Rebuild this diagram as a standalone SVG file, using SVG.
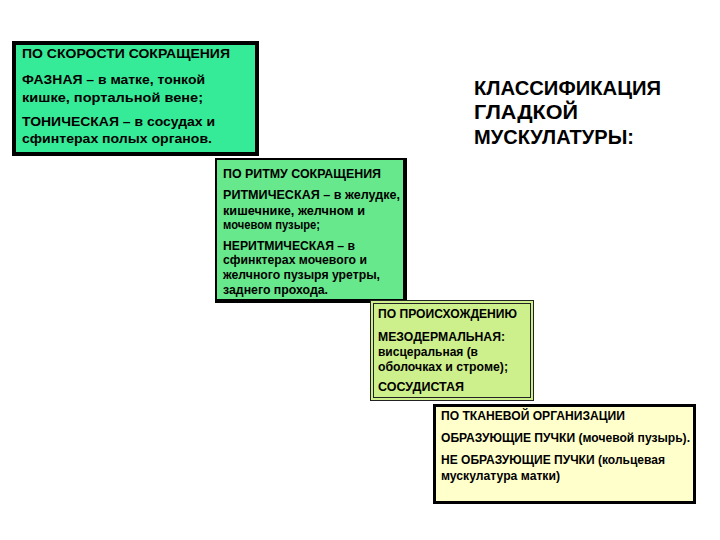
<svg xmlns="http://www.w3.org/2000/svg" width="720" height="540" viewBox="0 0 720 540">
<style>
text{font-family:"Liberation Sans",Arial,sans-serif;font-weight:bold;fill:#000}
.t1{font-size:13px}
.t2{font-size:12px}
.tt{font-size:20px}
</style>
<rect width="720" height="540" fill="#fff"/>
<g id="title">
<text class="tt" x="474" y="95" textLength="187" lengthAdjust="spacingAndGlyphs">КЛАССИФИКАЦИЯ</text>
<text class="tt" x="474" y="119" textLength="104" lengthAdjust="spacingAndGlyphs">ГЛАДКОЙ</text>
<text class="tt" x="474" y="144" textLength="160" lengthAdjust="spacingAndGlyphs">МУСКУЛАТУРЫ:</text>
</g>
<g id="speed">
<rect x="14" y="43" width="243" height="111" fill="#35eb98" stroke="#000" stroke-width="4"/>
<text class="t1" x="22" y="58" textLength="208" lengthAdjust="spacingAndGlyphs">ПО СКОРОСТИ СОКРАЩЕНИЯ</text>
<text class="t1" x="22" y="84" textLength="183" lengthAdjust="spacingAndGlyphs">ФАЗНАЯ – в матке, тонкой</text>
<text class="t1" x="22" y="102" textLength="181" lengthAdjust="spacingAndGlyphs">кишке, портальной вене;</text>
<text class="t1" x="22" y="126" textLength="193" lengthAdjust="spacingAndGlyphs">ТОНИЧЕСКАЯ – в сосудах и</text>
<text class="t1" x="22" y="143" textLength="190" lengthAdjust="spacingAndGlyphs">сфинтерах полых органов.</text>
</g>
<g id="rhythm">
<rect x="215" y="158" width="192" height="145" fill="#000"/>
<rect x="217" y="160" width="186" height="139" fill="#68e88c"/>
<text class="t2" x="223" y="178" textLength="158" lengthAdjust="spacingAndGlyphs">ПО РИТМУ СОКРАЩЕНИЯ</text>
<text class="t2" x="223" y="199" textLength="177" lengthAdjust="spacingAndGlyphs">РИТМИЧЕСКАЯ – в желудке,</text>
<text class="t2" x="223" y="215" textLength="142" lengthAdjust="spacingAndGlyphs">кишечнике, желчном и</text>
<text class="t2" x="223" y="229" textLength="97" lengthAdjust="spacingAndGlyphs">мочевом пузыре;</text>
<text class="t2" x="223" y="250" textLength="132" lengthAdjust="spacingAndGlyphs">НЕРИТМИЧЕСКАЯ – в</text>
<text class="t2" x="223" y="264" textLength="144" lengthAdjust="spacingAndGlyphs">сфинктерах мочевого и</text>
<text class="t2" x="223" y="279" textLength="157" lengthAdjust="spacingAndGlyphs">желчного пузыря уретры,</text>
<text class="t2" x="223" y="294" textLength="105" lengthAdjust="spacingAndGlyphs">заднего прохода.</text>
</g>
<g id="origin">
<rect x="370.5" y="300.5" width="163" height="100" fill="#cdef8c" stroke="#222" stroke-width="1"/>
<rect x="373.5" y="303.5" width="157" height="94" fill="none" stroke="#222" stroke-width="1"/>
<text class="t2" x="378" y="318" textLength="139" lengthAdjust="spacingAndGlyphs">ПО ПРОИСХОЖДЕНИЮ</text>
<text class="t2" x="378" y="341" textLength="127" lengthAdjust="spacingAndGlyphs">МЕЗОДЕРМАЛЬНАЯ:</text>
<text class="t2" x="378" y="356" textLength="100" lengthAdjust="spacingAndGlyphs">висцеральная (в</text>
<text class="t2" x="378" y="371" textLength="130" lengthAdjust="spacingAndGlyphs">оболочках и строме);</text>
<text class="t2" x="378" y="391" textLength="86" lengthAdjust="spacingAndGlyphs">СОСУДИСТАЯ</text>
</g>
<g id="tissue">
<rect x="434.5" y="405.5" width="260" height="97" fill="#ffffcc" stroke="#000" stroke-width="3"/>
<text class="t2" x="441" y="420" textLength="184" lengthAdjust="spacingAndGlyphs">ПО ТКАНЕВОЙ ОРГАНИЗАЦИИ</text>
<text class="t2" x="441" y="442" textLength="249" lengthAdjust="spacingAndGlyphs">ОБРАЗУЮЩИЕ ПУЧКИ (мочевой пузырь).</text>
<text class="t2" x="441" y="464" textLength="224" lengthAdjust="spacingAndGlyphs">НЕ ОБРАЗУЮЩИЕ ПУЧКИ (кольцевая</text>
<text class="t2" x="441" y="480" textLength="119" lengthAdjust="spacingAndGlyphs">мускулатура матки)</text>
</g>
</svg>
